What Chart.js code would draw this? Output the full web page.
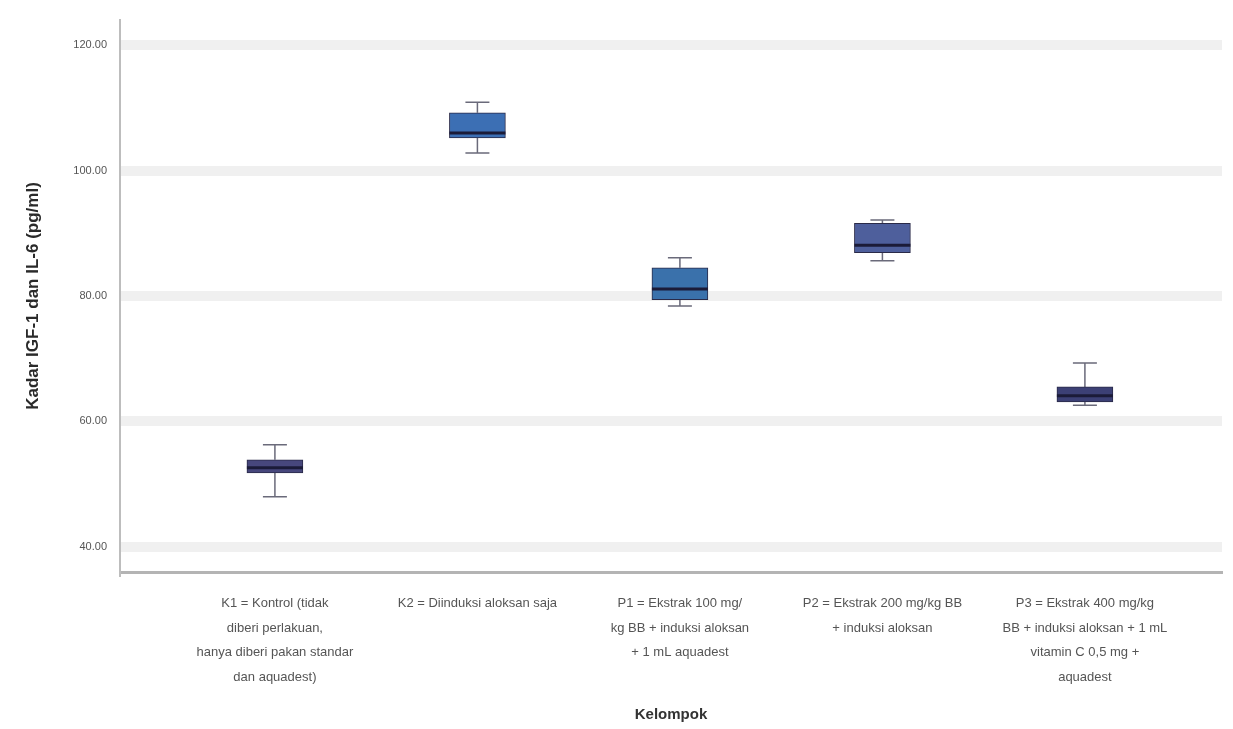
<!DOCTYPE html>
<html lang="id">
<head>
<meta charset="utf-8">
<title>Kadar per Kelompok</title>
<script src="https://cdn.jsdelivr.net/npm/chart.js@4.4.1/dist/chart.umd.min.js"></script>
<style>
  html, body { margin: 0; padding: 0; background: #ffffff; }
  #wrap { width: 1233px; height: 729px; position: relative; }
</style>
</head>
<body>
<div id="wrap"><canvas id="box"></canvas></div>
<script>
// Group labels (multi-line) along the x axis
const groupLabels = [
  ["K1 = Kontrol (tidak", "diberi perlakuan,", "hanya diberi pakan standar", "dan aquadest)"],
  ["K2 = Diinduksi aloksan saja"],
  ["P1 = Ekstrak 100 mg/", "kg BB + induksi aloksan", "+ 1 mL aquadest"],
  ["P2 = Ekstrak 200 mg/kg BB", "+ induksi aloksan"],
  ["P3 = Ekstrak 400 mg/kg", "BB + induksi aloksan + 1 mL", "vitamin C 0,5 mg +", "aquadest"]
];
const groupPos = [1, 2, 3, 4, 5];

// Five-number summaries per group (pg/ml)
const whiskerLow  = [48.0, 102.8, 78.4, 85.6, 62.6];
const quart1      = [51.8, 105.2, 79.4, 86.9, 63.1];
const medians     = [52.6, 106.0, 81.1, 88.1, 64.1];
const quart3      = [53.9, 109.2, 84.5, 91.6, 65.5];
const whiskerHigh = [56.3, 110.9, 86.1, 92.1, 69.3];

// Y axis ticks
const yTicks = [40, 60, 80, 100, 120];

const boxColors = ['#47477c', '#3c6fb4', '#3a71ab', '#4e5f9c', '#3c4075'];

const boxData = groupPos.map((x, i) => ({ x: x, y: [quart1[i], quart3[i]] }));

// Whiskers behind the boxes, medians on top
const boxplotParts = {
  id: 'boxplotParts',
  beforeDatasetsDraw(chart) {
    const ctx = chart.ctx;
    const ys = chart.scales.y;
    const meta = chart.getDatasetMeta(0);
    ctx.save();
    ctx.strokeStyle = '#6a6a7a';
    ctx.lineWidth = 1.5;
    meta.data.forEach((bar, i) => {
      const cx = bar.x;
      const yLo = ys.getPixelForValue(whiskerLow[i]);
      const yHi = ys.getPixelForValue(whiskerHigh[i]);
      const yQ1 = ys.getPixelForValue(quart1[i]);
      const yQ3 = ys.getPixelForValue(quart3[i]);
      const cap = 12;
      ctx.beginPath();
      ctx.moveTo(cx, yQ3); ctx.lineTo(cx, yHi);
      ctx.moveTo(cx - cap, yHi); ctx.lineTo(cx + cap, yHi);
      ctx.moveTo(cx, yQ1); ctx.lineTo(cx, yLo);
      ctx.moveTo(cx - cap, yLo); ctx.lineTo(cx + cap, yLo);
      ctx.stroke();
    });
    ctx.restore();
  },
  afterDatasetsDraw(chart) {
    const ctx = chart.ctx;
    const ys = chart.scales.y;
    const meta = chart.getDatasetMeta(0);
    ctx.save();
    ctx.strokeStyle = '#1b1b38';
    ctx.lineWidth = 3;
    meta.data.forEach((bar, i) => {
      const half = bar.width / 2;
      const ym = ys.getPixelForValue(medians[i]);
      ctx.beginPath();
      ctx.moveTo(bar.x - half, ym);
      ctx.lineTo(bar.x + half, ym);
      ctx.stroke();
    });
    ctx.restore();
  }
};

new Chart(document.getElementById('box'), {
  type: 'bar',
  data: {
    datasets: [{
      data: boxData,
      backgroundColor: boxColors,
      borderColor: '#2a2a48',
      borderWidth: 1,
      borderSkipped: false,
      barThickness: 56
    }]
  },
  plugins: [boxplotParts],
  options: {
    responsive: true,
    maintainAspectRatio: false,
    animation: false,
    layout: { padding: { top: 20, right: 11, bottom: 0, left: 0 } },
    plugins: {
      legend: { display: false },
      tooltip: { enabled: false }
    },
    scales: {
      x: {
        type: 'linear',
        offset: false,
        min: 0.235,
        max: 5.677,
        afterBuildTicks(scale) { scale.ticks = groupPos.map(v => ({ value: v })); },
        afterFit(scale) { scale.height = 157; },
        grid: { display: false },
        border: { display: true, color: '#b4b4b4', width: 3 },
        ticks: {
          autoSkip: false,
          maxRotation: 0,
          padding: 11,
          color: '#555555',
          font: { family: 'Liberation Sans, Arial, sans-serif', size: 13, lineHeight: 1.9 },
          callback: (v) => groupLabels[groupPos.indexOf(v)] || ''
        },
        title: {
          display: true,
          text: 'Kelompok',
          color: '#333333',
          font: { family: 'Liberation Sans, Arial, sans-serif', size: 15, weight: 'bold' },
          padding: { top: 0, bottom: 5 }
        }
      },
      y: {
        min: 36,
        max: 124,
        afterBuildTicks(scale) { scale.ticks = yTicks.map(v => ({ value: v })); },
        afterFit(scale) { scale.width = 120; },
        grid: { color: '#f0f0f0', lineWidth: 10, drawTicks: false },
        border: { display: true, color: '#bdbdbd', width: 2 },
        ticks: {
          padding: 13,
          color: '#555555',
          font: { family: 'Liberation Sans, Arial, sans-serif', size: 11 },
          callback: (v) => Number(v).toFixed(2)
        },
        title: {
          display: true,
          text: 'Kadar IGF-1 dan IL-6 (pg/ml)',
          color: '#2a2a2a',
          font: { family: 'Liberation Sans, Arial, sans-serif', size: 17, weight: 'bold' },
          padding: { top: 23, bottom: 0 }
        }
      }
    }
  }
});
</script>
</body>
</html>
